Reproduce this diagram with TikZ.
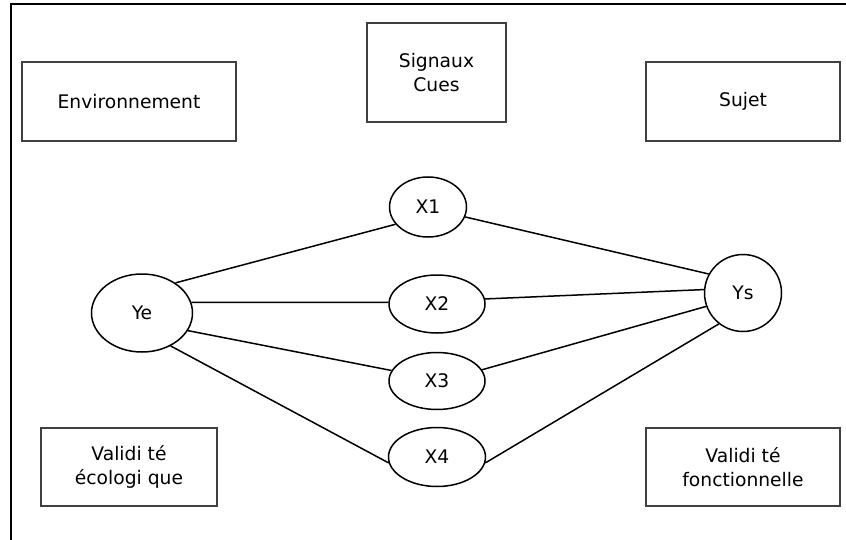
\documentclass[tikz,border=0pt]{standalone}
\usepackage{fontspec}
\setmainfont{DejaVu Sans}
\usepackage{tikz}
\usetikzlibrary{shapes.geometric}
\tikzset{
	boxstyle/.style={rectangle,draw=black!75,line width=1pt,align=center,inner sep=1pt},
	cuestyle/.style={ellipse,draw=black,line width=0.75pt,inner sep=0pt},
	linkstyle/.style={draw=black,line width=0.75pt}
}
\begin{document}
\begin{tikzpicture}[x=0.5pt,y=-0.5pt]
	\fontsize{9.35}{12.2}\selectfont
	\useasboundingbox (0,0) rectangle (846,540);
	\draw[line width=0.7pt] (11,540) -- (11,4) -- (846,4);
	\node[boxstyle,minimum width=107pt,minimum height=39.5pt] (env) at (129,101.5) {Environnement};
	\node[boxstyle,minimum width=69.5pt,minimum height=49.5pt] (cues) at (436.5,72.5) {Signaux\\Cues};
	\node[boxstyle,minimum width=97pt,minimum height=39.5pt] (sujet) at (743,101.5) {Sujet};
	\node[boxstyle,minimum width=88pt,minimum height=39pt] (veco) at (129,467) {Validi té\\écologi que};
	\node[boxstyle,minimum width=97pt,minimum height=39pt] (vfct) at (743,467) {Validi té\\fonctionnelle};
	\node[cuestyle,minimum width=50.5pt,minimum height=39pt] (ye) at (142,313) {Ye};
	\node[cuestyle,minimum width=38.5pt,minimum height=38.5pt] (ys) at (743,293) {Ys};
	\node[cuestyle,minimum width=38.5pt,minimum height=30pt] (x1) at (428,207) {X1};
	\node[cuestyle,minimum width=48pt,minimum height=29pt] (x2) at (437,304) {X2};
	\node[cuestyle,minimum width=48pt,minimum height=28.5pt] (x3) at (437,381) {X3};
	\node[cuestyle,minimum width=48.5pt,minimum height=29.5pt] (x4) at (437,457) {X4};
	\draw[linkstyle] (ye.42)--(x1.208);
	\draw[linkstyle] (ye.12)--(x2.178);
	\draw[linkstyle] (ye.-21)--(x3.167);
	\draw[linkstyle] (ye.-49)--(x4.187);
	\draw[linkstyle] (x1.-15)--(ys.151);
	\draw[linkstyle] (x2.6)--(ys.175);
	\draw[linkstyle] (x3.14)--(ys.200);
	\draw[linkstyle] (x4.-7)--(ys.232);
\end{tikzpicture}
\end{document}
